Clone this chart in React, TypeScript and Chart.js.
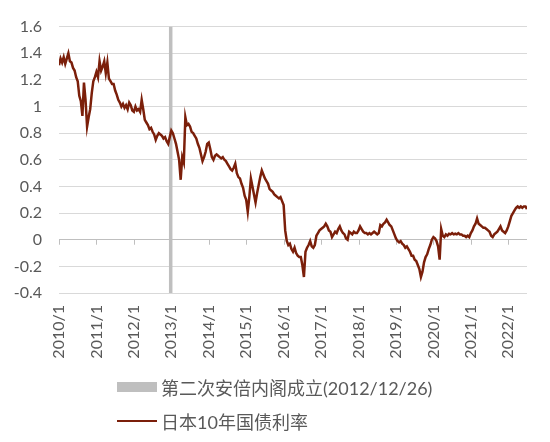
import React, { useEffect, useRef } from "react";
import { Chart, registerables } from "chart.js";

Chart.register(...registerables);

// 日本10年国债利率 (%), two readings per month (1st and 16th)
const startYear = 2010;
const yield2010 = [1.31, 1.36, 1.33, 1.37, 1.32, 1.36, 1.4, 1.34, 1.33, 1.29, 1.27, 1.22, 1.19, 1.08, 1.04, 0.93, 1.18, 1.05, 0.85, 0.92, 0.98, 1.1, 1.19, 1.22];
const yield2011 = [1.26, 1.22, 1.34, 1.27, 1.3, 1.34, 1.25, 1.33, 1.21, 1.19, 1.17, 1.17, 1.12, 1.09, 1.05, 1.03, 1.0, 1.02, 0.99, 1.01, 0.98, 1.03, 1.01, 0.97];
const yield2012 = [0.96, 1.0, 0.97, 0.98, 0.96, 1.05, 0.98, 0.9, 0.88, 0.86, 0.83, 0.84, 0.81, 0.79, 0.75, 0.78, 0.8, 0.79, 0.78, 0.76, 0.77, 0.74, 0.72, 0.77];
const yield2013 = [0.82, 0.8, 0.76, 0.72, 0.66, 0.6, 0.45, 0.62, 0.58, 0.92, 0.86, 0.87, 0.85, 0.81, 0.8, 0.78, 0.76, 0.72, 0.69, 0.64, 0.59, 0.62, 0.66, 0.72];
const yield2014 = [0.73, 0.68, 0.62, 0.6, 0.63, 0.64, 0.63, 0.62, 0.61, 0.62, 0.6, 0.59, 0.57, 0.55, 0.53, 0.52, 0.54, 0.57, 0.5, 0.47, 0.46, 0.42, 0.39, 0.33];
const yield2015 = [0.3, 0.21, 0.32, 0.46, 0.4, 0.34, 0.28, 0.35, 0.41, 0.47, 0.52, 0.49, 0.46, 0.44, 0.42, 0.38, 0.37, 0.36, 0.34, 0.33, 0.32, 0.31, 0.32, 0.29];
const yield2016 = [0.26, 0.07, -0.01, -0.04, -0.03, -0.07, -0.09, -0.06, -0.1, -0.12, -0.13, -0.13, -0.19, -0.28, -0.09, -0.06, -0.04, -0.01, -0.05, -0.06, -0.04, 0.03, 0.05, 0.07];
const yield2017 = [0.08, 0.09, 0.1, 0.12, 0.1, 0.07, 0.06, 0.02, 0.04, 0.06, 0.05, 0.08, 0.1, 0.07, 0.05, 0.04, 0.01, 0.0, 0.06, 0.05, 0.04, 0.06, 0.05, 0.05];
const yield2018 = [0.07, 0.1, 0.08, 0.06, 0.05, 0.05, 0.04, 0.05, 0.04, 0.05, 0.06, 0.05, 0.04, 0.05, 0.11, 0.1, 0.12, 0.13, 0.15, 0.13, 0.11, 0.1, 0.07, 0.04];
const yield2019 = [0.01, -0.01, -0.02, -0.01, -0.03, -0.04, -0.06, -0.05, -0.07, -0.09, -0.12, -0.12, -0.15, -0.16, -0.19, -0.22, -0.28, -0.24, -0.17, -0.13, -0.11, -0.07, -0.04, 0.0];
const yield2020 = [0.02, 0.01, -0.01, -0.05, -0.15, 0.08, 0.03, 0.02, 0.04, 0.03, 0.045, 0.04, 0.05, 0.04, 0.045, 0.04, 0.05, 0.04, 0.04, 0.03, 0.03, 0.02, 0.03, 0.02];
const yield2021 = [0.05, 0.07, 0.1, 0.12, 0.16, 0.12, 0.11, 0.1, 0.09, 0.09, 0.08, 0.07, 0.06, 0.03, 0.02, 0.04, 0.05, 0.06, 0.08, 0.1, 0.07, 0.06, 0.05, 0.07];
const yield2022 = [0.1, 0.14, 0.18, 0.2, 0.22, 0.24, 0.25, 0.24, 0.25, 0.24, 0.25, 0.25, 0.23];
const yieldByYear = [yield2010, yield2011, yield2012, yield2013, yield2014, yield2015, yield2016, yield2017, yield2018, yield2019, yield2020, yield2021, yield2022];

const xTickYears = [2010, 2011, 2012, 2013, 2014, 2015, 2016, 2017, 2018, 2019, 2020, 2021, 2022];
const xTickLabels = ["2010/1", "2011/1", "2012/1", "2013/1", "2014/1", "2015/1", "2016/1", "2017/1", "2018/1", "2019/1", "2020/1", "2021/1", "2022/1"];
const xMax = 2022.5;
const yMin = -0.4;
const yMax = 1.6;
const yStep = 0.2;

const abeCabinetDate = "2012-12-26";
const legendLabels = ["第二次安倍内阁成立(2012/12/26)", "日本10年国债利率"];

const barColor = "#BFBFBF";
const lineColor = "#7B1F0A";
const textColor = "#595959";

const toYear = (date: string) => {
  const [y, m, d] = date.split("-").map(Number);
  const start = Date.UTC(y, 0, 1);
  const end = Date.UTC(y + 1, 0, 1);
  return y + (Date.UTC(y, m - 1, d) - start) / (end - start);
};

// small tick marks hanging below the zero line at each year
const zeroLineTicks = {
  id: "zeroLineTicks",
  beforeDatasetsDraw(chart: any) {
    const { ctx, scales } = chart;
    const y0 = scales.y.getPixelForValue(0);
    ctx.save();
    ctx.strokeStyle = barColor;
    ctx.lineWidth = 1;
    ctx.beginPath();
    xTickYears.forEach((yr) => {
      const px = Math.round(scales.x.getPixelForValue(yr)) + 0.5;
      ctx.moveTo(px, y0);
      ctx.lineTo(px, y0 + 5);
    });
    ctx.stroke();
    ctx.restore();
  },
};

const App = () => {
  const chartRef = useRef<HTMLCanvasElement>(null);

  useEffect(() => {
    const ctx = chartRef.current!.getContext("2d")!;
    const points = yieldByYear.flatMap((vals, i) =>
      vals.map((v, k) => ({ x: startYear + i + k / 24, y: v }))
    );
    const abeX = toYear(abeCabinetDate);
    const tickFont = { family: "Lato, 'Noto Sans CJK SC', sans-serif", size: 16 };

    const myChart = new Chart(ctx, {
      type: "line",
      data: {
        datasets: [
          {
            label: legendLabels[0],
            data: [
              { x: abeX, y: yMin },
              { x: abeX, y: yMax },
            ],
            borderColor: barColor,
            backgroundColor: barColor,
            borderWidth: 3.5,
            pointRadius: 0,
            order: 2,
          },
          {
            label: legendLabels[1],
            data: points,
            borderColor: lineColor,
            backgroundColor: lineColor,
            borderWidth: 2.5,
            pointRadius: 0,
            tension: 0,
            order: 1,
          },
        ],
      },
      options: {
        responsive: false,
        animation: false,
        layout: { padding: { top: 22, right: 23, left: 0, bottom: 0 } },
        plugins: {
          legend: { display: false },
          tooltip: { enabled: false },
        },
        scales: {
          x: {
            type: "linear",
            min: startYear,
            max: xMax,
            grid: { display: false, drawTicks: false },
            border: { display: false },
            afterBuildTicks: (axis: any) => {
              axis.ticks = xTickYears.map((v) => ({ value: v }));
            },
            afterFit: (axis: any) => {
              axis.height = 149;
            },
            ticks: {
              autoSkip: false,
              minRotation: 90,
              maxRotation: 90,
              padding: 12,
              color: textColor,
              font: tickFont,
              callback: (value: any) => xTickLabels[xTickYears.indexOf(Number(value))] ?? "",
            },
          },
          y: {
            min: yMin,
            max: yMax,
            grid: {
              drawTicks: false,
              color: (c: any) => (c.tick && c.tick.value === 0 ? barColor : "#D9D9D9"),
            },
            border: { display: false },
            afterFit: (axis: any) => {
              axis.width = 59;
            },
            ticks: {
              stepSize: yStep,
              padding: 17,
              color: textColor,
              font: tickFont,
              callback: (value: any) => String(Math.round(Number(value) * 10) / 10),
            },
          },
        },
      },
      plugins: [zeroLineTicks],
    });

    return () => {
      myChart.destroy();
    };
  }, []);

  const rowStyle: React.CSSProperties = { display: "flex", alignItems: "center", height: 26 };

  return (
    <div style={{ position: "fixed", left: 0, top: 0, width: 550, height: 442, background: "#fff" }}>
      <canvas ref={chartRef} width={550} height={442}></canvas>
      <div
        style={{
          position: "absolute",
          left: 117,
          top: 374,
          fontFamily: "Lato, 'Noto Sans CJK SC', sans-serif",
          fontSize: 18,
          color: textColor,
          whiteSpace: "nowrap",
        }}
      >
        <div style={rowStyle}>
          <span style={{ display: "inline-block", width: 40, height: 10, background: barColor, marginRight: 4 }} />
          <span>{legendLabels[0]}</span>
        </div>
        <div style={{ ...rowStyle, marginTop: 8 }}>
          <span style={{ display: "inline-block", width: 40, height: 2, background: lineColor, marginRight: 4 }} />
          <span>{legendLabels[1]}</span>
        </div>
      </div>
    </div>
  );
};

export default App;
